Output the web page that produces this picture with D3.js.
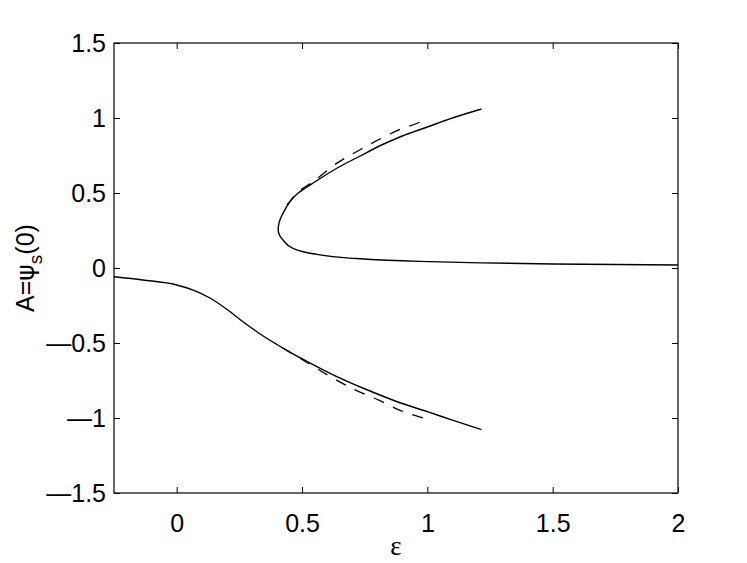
<!DOCTYPE html>
<meta charset="utf-8">
<html>
<head>
  <script src="https://d3js.org/d3.v7.min.js"></script>
  <style>
    body { margin: 0; background: #fff; }
    text { font-family: "Liberation Sans", Arial, sans-serif; }
  </style>
</head>
<body>
<div id="chart"></div>
<script>
// x ticks and y ticks
var xTicks = [0, 0.5, 1, 1.5, 2];
var yTicks = [-1.5, -1, -0.5, 0, 0.5, 1, 1.5];

// lower solid branch (epsilon, A)
var lowerEps = [-0.25, -0.135, 0, 0.066, 0.133, 0.2, 0.266, 0.333, 0.4, 0.453, 0.49, 0.624, 0.757, 0.894, 1.0, 1.1, 1.216];
var lowerA   = [-0.058, -0.08, -0.113, -0.147, -0.2, -0.275, -0.36, -0.44, -0.51, -0.562, -0.596, -0.712, -0.81, -0.9, -0.958, -1.014, -1.078];

// upper solid branch, ordered by A (eps = 2 end up to the top end)
var upperEps = [2, 1.5, 1.17, 0.97, 0.69, 0.544, 0.464, 0.424, 0.41, 0.405, 0.408, 0.424, 0.478, 0.557, 0.644, 0.73, 0.824, 0.9, 1.0, 1.1, 1.216];
var upperA   = [0.02, 0.027, 0.036, 0.044, 0.066, 0.095, 0.131, 0.187, 0.22, 0.253, 0.298, 0.364, 0.49, 0.58, 0.67, 0.745, 0.825, 0.88, 0.94, 1.0, 1.06];

// dashed approximations
var dashUpEps = [0.44, 0.48, 0.544, 0.644, 0.73, 0.824, 0.9, 0.96, 1.0];
var dashUpA   = [0.42, 0.5, 0.575, 0.704, 0.787, 0.871, 0.93, 0.965, 0.998];
var dashLoEps = [0.42, 0.5, 0.611, 0.707, 0.802, 0.894, 0.995];
var dashLoA   = [-0.53, -0.61, -0.722, -0.809, -0.878, -0.951, -1.005];

var margin = {top: 43, right: 69, bottom: 70, left: 114};
var W = 747, H = 563;
var width = W - margin.left - margin.right,
    height = H - margin.top - margin.bottom;

var svg = d3.select("#chart").append("svg")
    .attr("width", W).attr("height", H);
var g = svg.append("g")
    .attr("transform", "translate(" + margin.left + "," + margin.top + ")");

var x = d3.scaleLinear().domain([-0.25, 2]).range([0, width]);
var y = d3.scaleLinear().domain([-1.5, 1.5]).range([height, 0]);

// matlab draws a long dash for the minus sign
function fmt(d) { return d < 0 ? "\u2014" + Math.abs(d) : "" + d; }

// axes with inward ticks on all four sides
g.append("g").attr("transform", "translate(0," + height + ")")
  .call(d3.axisBottom(x).tickValues(xTicks).tickSize(-6).tickPadding(21).tickFormat(fmt))
  .call(function(a) { a.select(".domain").remove(); });
g.append("g")
  .call(d3.axisTop(x).tickValues(xTicks).tickSize(-6).tickFormat(""))
  .call(function(a) { a.select(".domain").remove(); });
g.append("g")
  .call(d3.axisLeft(y).tickValues(yTicks).tickSize(-6).tickPadding(8).tickFormat(fmt))
  .call(function(a) { a.select(".domain").remove(); });
g.append("g").attr("transform", "translate(" + width + ",0)")
  .call(d3.axisRight(y).tickValues(yTicks).tickSize(-6).tickFormat(""))
  .call(function(a) { a.select(".domain").remove(); });

g.selectAll(".tick text").style("font-size", "25px").attr("fill", "#000")
  .style("font-family", "'Liberation Sans', Arial, sans-serif");
g.selectAll(".tick line").attr("stroke", "#000");

g.append("rect").attr("width", width).attr("height", height)
  .attr("fill", "none").attr("stroke", "#000").attr("stroke-width", 1.2);

function zip(a, b) { return a.map(function(v, i) { return [v, b[i]]; }); }

var lineX = d3.line()
  .x(function(d) { return x(d[0]); })
  .y(function(d) { return y(d[1]); })
  .curve(d3.curveMonotoneX);
var lineY = d3.line()
  .x(function(d) { return x(d[0]); })
  .y(function(d) { return y(d[1]); })
  .curve(d3.curveMonotoneY);

g.append("path").datum(zip(lowerEps, lowerA)).attr("d", lineX)
  .attr("fill", "none").attr("stroke", "#000").attr("stroke-width", 1.4);
g.append("path").datum(zip(upperEps, upperA).reverse()).attr("d", lineY)
  .attr("fill", "none").attr("stroke", "#000").attr("stroke-width", 1.4);
g.append("path").datum(zip(dashUpEps, dashUpA)).attr("d", lineX)
  .attr("fill", "none").attr("stroke", "#000").attr("stroke-width", 1.3)
  .attr("stroke-dasharray", "11,10");
g.append("path").datum(zip(dashLoEps, dashLoA)).attr("d", lineX)
  .attr("fill", "none").attr("stroke", "#000").attr("stroke-width", 1.3)
  .attr("stroke-dasharray", "11,10");

// axis labels
svg.append("text")
  .attr("x", margin.left + x(0.875)).attr("y", 555)
  .attr("text-anchor", "middle")
  .style("font-family", "'Liberation Serif', 'DejaVu Serif', serif")
  .style("font-size", "27px")
  .text("\u03b5");

var yl = svg.append("text")
  .attr("transform", "translate(34," + (margin.top + y(0)) + ") rotate(-90)")
  .attr("text-anchor", "middle")
  .style("font-size", "25px");
yl.append("tspan").text("A=");
yl.append("tspan").style("font-family", "'DejaVu Sans', sans-serif").text("\u03c8");
yl.append("tspan").attr("dy", 8).style("font-size", "19px").text("s");
yl.append("tspan").attr("dy", -8).text("(0)");
</script>
</body>
</html>
